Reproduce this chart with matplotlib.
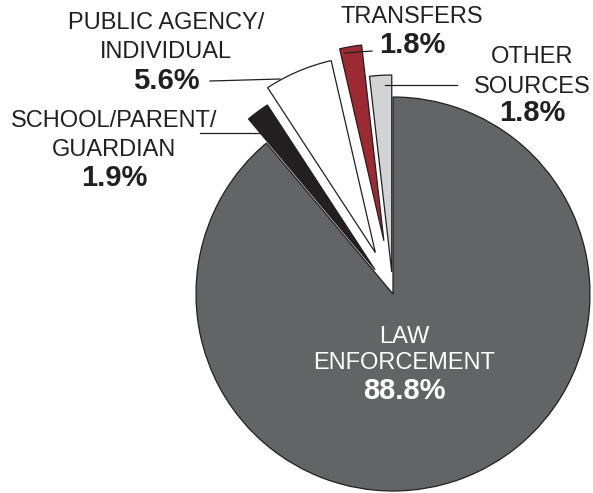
import matplotlib
matplotlib.use("Agg")
import matplotlib.pyplot as plt

categories = ["LAW\nENFORCEMENT", "SCHOOL/PARENT/\nGUARDIAN", "PUBLIC AGENCY/\nINDIVIDUAL", "TRANSFERS", "OTHER\nSOURCES"]
values = [88.8, 1.9, 5.6, 1.8, 1.8]
pct_labels = ["88.8%", "1.9%", "5.6%", "1.8%", "1.8%"]

colors = ["#636466", "#231f20", "#ffffff", "#9d2a33", "#d1d3d4"]
explode_px = [0, 30, 45, 54, 22]

W, H = 593, 493
plt.rcParams['font.family'] = ['Liberation Sans', 'DejaVu Sans']
fig = plt.figure(figsize=(W / 100, H / 100), dpi=100)
ax = fig.add_axes([0, 0, 1, 1])

def P(x, y):
    return (x, H - y)

cx, cy = P(393, 294)
R = 197
wedges, _ = ax.pie(values, colors=colors, explode=explode_px, startangle=90,
                   counterclock=False, center=(cx, cy), radius=R,
                   wedgeprops=dict(edgecolor="#231f20", linewidth=0.9))
ax.set_xlim(0, W)
ax.set_ylim(0, H)
ax.set_aspect('equal')
ax.axis('off')

txt = "#231f20"
ns, bs = 17, 21

def label(lines, pct, x, ys, color=txt):
    for ln, y in zip(lines, ys[:-1]):
        ax.text(*P(x, y), ln, ha='center', va='center', fontsize=ns, color=color)
    ax.text(*P(x, ys[-1]), pct, ha='center', va='center', fontsize=bs,
            fontweight='bold', color=color)

label(categories[0].split("\n"), pct_labels[0], 404, [337, 363, 391], color="white")
label(categories[1].split("\n"), pct_labels[1], 114, [121, 150, 178])
label(categories[2].split("\n"), pct_labels[2], 166, [23, 52, 81])
label(categories[3].split("\n"), pct_labels[3], 412, [17, 45])
label(categories[4].split("\n"), pct_labels[4], 532, [57, 87, 113])

def leader(p1, p2):
    a, b = P(*p1), P(*p2)
    ax.plot([a[0], b[0]], [a[1], b[1]], color=txt, lw=0.9)

leader((210, 81), (280, 79))
leader((200, 133), (260, 133))
leader((372, 51), (345, 53))
leader((457, 85), (385, 85))

fig.savefig("out.png", dpi=100, facecolor="white")
